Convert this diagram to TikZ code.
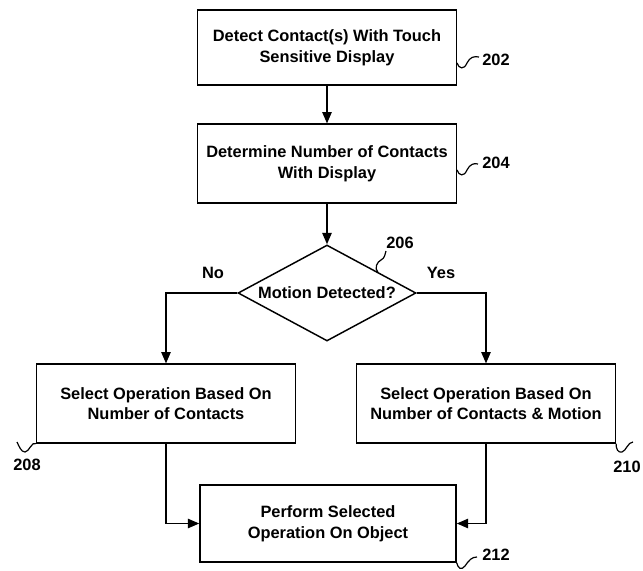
\documentclass[tikz,border=0pt]{standalone}
\usepackage{fontspec}
\setmainfont{Liberation Sans}
\usetikzlibrary{
	arrows.meta,
	shapes.geometric
}

\tikzset{
	stepbox/.style={draw, line width=1.1pt, minimum width=194pt, minimum height=58pt,
		align=center, inner sep=2pt, font=\bfseries\fontsize{12.3}{15.5}\selectfont},
	decision/.style={diamond, draw, line width=1.1pt, aspect=1.85, minimum width=133.5pt,
		minimum height=72pt, inner sep=0pt, font=\bfseries\fontsize{12.3}{15.5}\selectfont},
	flow/.style={line width=1.1pt, -{Triangle[length=8.5pt,width=7pt]}},
	refnum/.style={inner sep=1pt, font=\bfseries\fontsize{12.3}{14}\selectfont},
	squiggle/.style={line width=0.9pt}
}

\begin{document}
\begin{tikzpicture}[x=0.75pt,y=-0.75pt]
		
		\useasboundingbox (0,0) rectangle (643,571);
		
		% steps
		\node[stepbox, minimum height=56pt] (detect) at (327,47.5) {Detect Contact(s) With Touch\\Sensitive Display};
		\node[stepbox, minimum height=59pt] (count) at (327,163.5) {Determine Number of Contacts\\With Display};
		\node[decision] (motion) at (327,293) {Motion Detected?};
		\node[stepbox, minimum height=59pt] (bycount) at (166,403.5) {Select Operation Based On\\Number of Contacts};
		\node[stepbox, minimum height=59pt] (bymotion) at (486,403.5) {Select Operation Based On\\Number of Contacts \& Motion};
		\node[stepbox, minimum width=192pt] (perform) at (328,523.5) {Perform Selected\\Operation On Object};
		
		\node[refnum] (no) at (213,273) {No};
		\node[refnum] (yes) at (441,273) {Yes};
		
		% connectors
		\draw[flow] (detect) -- (count);
		\draw[flow] (count) -- (motion);
		\draw[flow] (motion.west) -| (bycount.north);
		\draw[flow] (motion.east) -| (bymotion.north);
		\draw[flow] (bycount.south) |- (perform.west);
		\draw[flow] (bymotion.south) |- (perform.east);
		
		% reference numerals
		\node[refnum] (n202) at (496,60) {202};
		\node[refnum] (n204) at (496,163) {204};
		\node[refnum] (n206) at (400,243) {206};
		\node[refnum] (n208) at (27,465) {208};
		\node[refnum] (n210) at (627,467) {210};
		\node[refnum] (n212) at (496,555) {212};
		
		\coordinate (t202) at (457,63);
		\coordinate (t204) at (457,170);
		\coordinate (t206) at (378,272.5);
		
		\draw[squiggle] (t202) .. controls (459,69) and (464,70) .. (467,63)
			.. controls (470,57) and (474,56) .. (479,57);
		\draw[squiggle] (t204) .. controls (459,176) and (464,177) .. (467,170)
			.. controls (470,164) and (474,163) .. (478,164);
		\draw[squiggle] (t206) .. controls (374,268) and (377,262) .. (381,260)
			.. controls (385,258) and (385,254) .. (386,251);
		\draw[squiggle] (bycount.south west) .. controls (32,441) and (29,452) .. (25,452)
			.. controls (21,452) and (19,446) .. (17,442);
		\draw[squiggle] (bymotion.south east) .. controls (616,449) and (618,453) .. (622,452)
			.. controls (626,451) and (628,442) .. (633,442);
		\draw[squiggle] (perform.south east) .. controls (458,568) and (461,571) .. (465,566)
			.. controls (469,560) and (472,557) .. (477,557);
		
	\end{tikzpicture}
\end{document}
